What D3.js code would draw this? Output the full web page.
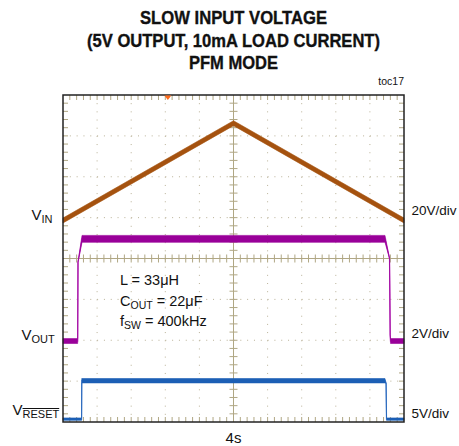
<!DOCTYPE html>
<html><head><meta charset="utf-8">
<script src="https://cdn.jsdelivr.net/npm/d3@7"></script>
<style>
html,body{margin:0;padding:0;background:#fff;}
svg{display:block;}
text{font-family:"Liberation Sans",Arial,sans-serif;fill:#111;}
</style></head>
<body>
<svg id="c" width="459" height="446"></svg>
<script>
// ---- data ----
const titleLines = ["SLOW INPUT VOLTAGE", "(5V OUTPUT, 10mA LOAD CURRENT)", "PFM MODE"];
const timePerDiv = 4;            // s/div
const timeLabel = "4s";
const noteLines = [["L = 33\u03BCH", ""], ["C", "OUT", " = 22\u03BCF"], ["f", "SW", " = 400kHz"]];

// VIN channel (20V/div)
const vinTime  = [0, 20, 40];
const vinVolts = [0, 47.6, 0];
const vinNoise = [1.2, 1.2, 1.2];
// VOUT channel (2V/div)
const voutTime  = [0, 1.72, 1.76, 2.23, 37.77, 38.3, 38.38, 38.42, 40];
const voutVolts = [0, 0, 3.86, 5.0, 5.0, 4.05, 0.3, 0, 0];
const voutNoise = [0.12, 0.12, 0, 0.17, 0.17, 0, 0, 0.12, 0.12];
// VRESET channel (5V/div)
const vrstTime  = [0, 2.18, 2.2, 37.77, 37.9, 37.95, 40];
const vrstVolts = [0, 0, 4.7, 4.7, 4.4, 0, 0];
const vrstNoise = [0.15, 0.15, 0.27, 0.27, 0, 0.15, 0.15];

const channels = [
  {name:"IN",    scale:"20V/div", vPerDiv:20, pos:4.93, t:vinTime,  v:vinVolts,  n:vinNoise,  band:"#a5520f", thin:"#b8682a"},
  {name:"OUT",   scale:"2V/div",  vPerDiv:2,  pos:1.98, t:voutTime, v:voutVolts, n:voutNoise, band:"#990099", thin:"#cc44cc"},
  {name:"RESET", scale:"5V/div",  vPerDiv:5,  pos:0.07, t:vrstTime, v:vrstVolts, n:vrstNoise, band:"#1c5fb5", thin:"#6f9be0"}
];

// ---- layout ----
const L = 63, R = 404, T = 95, B = 422;
const svg = d3.select("#c");
const x = d3.scaleLinear().domain([0, 10*timePerDiv]).range([L, R]);
const yDiv = d3.scaleLinear().domain([0, 8]).range([B, T]);

const gridCol = "#b9b197", tickCol = "#b0a784";
const g = svg.append("g");

// dotted grid
const minorX = (R-L)/50, minorY = (B-T)/40;
d3.range(1,10).filter(i=>i!==5).forEach(i=>{
  g.append("line").attr("x1", x(i*timePerDiv)).attr("x2", x(i*timePerDiv))
   .attr("y1", T).attr("y2", B).attr("stroke", gridCol).attr("stroke-width",1)
   .attr("stroke-dasharray", `1,${minorY-1}`);
});
d3.range(1,8).filter(j=>j!==4).forEach(j=>{
  g.append("line").attr("y1", yDiv(j)).attr("y2", yDiv(j))
   .attr("x1", L).attr("x2", R).attr("stroke", gridCol).attr("stroke-width",1)
   .attr("stroke-dasharray", `1,${minorX-1}`);
});
// center axes
g.append("line").attr("x1", x(5*timePerDiv)).attr("x2", x(5*timePerDiv)).attr("y1",T).attr("y2",B).attr("stroke",tickCol).attr("stroke-width",1);
g.append("line").attr("y1", yDiv(4)).attr("y2", yDiv(4)).attr("x1",L).attr("x2",R).attr("stroke",tickCol).attr("stroke-width",1);

// minor ticks
const xMinor = d3.range(1,50).map(k=>k*timePerDiv/5);
const yMinor = d3.range(1,40).map(k=>k/5);
const tk = g.append("g").attr("stroke", tickCol).attr("stroke-width", 1);
xMinor.forEach(t=>{
  const px = x(t);
  tk.append("line").attr("x1",px).attr("x2",px).attr("y1",T).attr("y2",T+5);
  tk.append("line").attr("x1",px).attr("x2",px).attr("y1",B).attr("y2",B-5);
  tk.append("line").attr("x1",px).attr("x2",px).attr("y1",yDiv(4)-4).attr("y2",yDiv(4)+4);
});
yMinor.forEach(d=>{
  const py = yDiv(d);
  tk.append("line").attr("y1",py).attr("y2",py).attr("x1",L).attr("x2",L+5);
  tk.append("line").attr("y1",py).attr("y2",py).attr("x1",R).attr("x2",R-5);
  tk.append("line").attr("y1",py).attr("y2",py).attr("x1",x(5*timePerDiv)-4).attr("x2",x(5*timePerDiv)+4);
});

// traces
channels.forEach(ch=>{
  const pts = ch.t.map((t,i)=>({t, v:ch.v[i], n:ch.n[i]}));
  const yv = v => yDiv(ch.pos + v/ch.vPerDiv);
  svg.append("path").datum(pts)
    .attr("d", d3.line().x(d=>x(d.t)).y(d=>yv(d.v)))
    .attr("fill","none").attr("stroke", ch.thin).attr("stroke-width",1.2);
  svg.append("path").datum(pts)
    .attr("d", d3.area().x(d=>x(d.t)).y0(d=>yv(d.v - d.n)).y1(d=>yv(d.v + d.n)))
    .attr("fill", ch.band).attr("stroke", ch.band).attr("stroke-width",0.6);
});

// frame
svg.append("rect").attr("x",L).attr("y",T).attr("width",R-L).attr("height",B-T)
  .attr("fill","none").attr("stroke","#222").attr("stroke-width",1.5);

// trigger marker
const trigT = 12.3;
svg.append("path").attr("d", `M${x(trigT)-3.5},${T+0.5} L${x(trigT)+3.5},${T+0.5} L${x(trigT)},${T+5} Z`).attr("fill","#ff6a1a");

// title
const titleW = [187, 293, 89], titleY = [23.5, 46.5, 69];
titleLines.forEach((s,i)=>{
  svg.append("text").attr("x", 233.5).attr("y", titleY[i]).attr("text-anchor","middle")
    .attr("font-size",18).attr("font-weight","bold").attr("stroke","#111").attr("stroke-width",0.35)
    .attr("textLength", titleW[i]).attr("lengthAdjust","spacingAndGlyphs").text(s);
});
svg.append("text").attr("x", 404).attr("y", 85).attr("text-anchor","end").attr("font-size",10.5).text("toc17");

// channel labels (left)
const leftX = [31.5, 21.5, 12.5], leftY = [220, 340, 415];
channels.forEach((ch,i)=>{
  const t = svg.append("text").attr("x", leftX[i]).attr("y", leftY[i]).attr("font-size",15);
  t.append("tspan").text("V");
  const sub = t.append("tspan").attr("font-size",11).attr("dy",3).text(ch.name);
  if (ch.name === "RESET") {
    const start = leftX[i] + t.select("tspan").node().getComputedTextLength();
    const w = sub.node().getComputedTextLength();
    svg.append("line").attr("x1", start).attr("x2", start + w)
      .attr("y1", leftY[i] - 6.5).attr("y2", leftY[i] - 6.5).attr("stroke","#111").attr("stroke-width",1);
  }
});
// scale labels (right)
const rightY = [215, 338, 418];
channels.forEach((ch,i)=>{
  svg.append("text").attr("x", 411.5).attr("y", rightY[i]).attr("font-size",13.5).text(ch.scale);
});
// time label
svg.append("text").attr("x", x(5*timePerDiv)).attr("y", 443).attr("text-anchor","middle").attr("font-size",15).text(timeLabel);

// notes
const noteY = [285, 306, 326];
noteLines.forEach((parts,i)=>{
  const t = svg.append("text").attr("x",120).attr("y",noteY[i]).attr("font-size",14.5);
  t.append("tspan").text(parts[0]);
  if (parts.length > 2) {
    t.append("tspan").attr("font-size",10.5).attr("dy",3).text(parts[1]);
    t.append("tspan").attr("dy",-3).text(parts[2]);
  }
});
</script>
</body></html>
